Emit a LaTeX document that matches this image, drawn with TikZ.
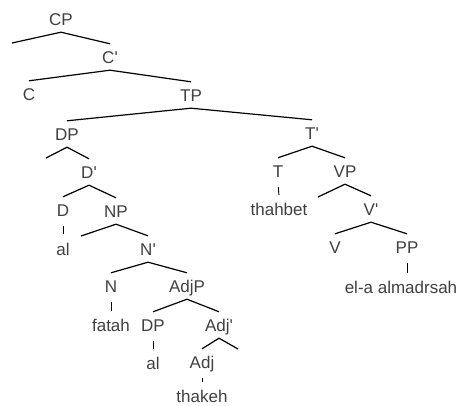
\documentclass[tikz,border=0pt]{standalone}
\usepackage{fontspec}
\setmainfont{Liberation Sans}
\definecolor{labelgray}{RGB}{64,64,64}
\newcommand{\primemark}{\textquotesingle}
\begin{document}
\begin{tikzpicture}[x=1pt,y=-1pt,
  lab/.style={anchor=base,inner sep=0pt,text height=20pt,text depth=6pt,
    text=labelgray,font=\fontsize{17}{20}\selectfont},
  branch/.style={draw=black,line width=1.2pt},
  unary/.style={draw=black,line width=0.9pt,shorten <=3pt,shorten >=1pt}]
\useasboundingbox (0,0) rectangle (467,406);
% labels: (x, baseline)
\node[lab] (cp)      at (61,26)   {CP};
\coordinate (e1) at (12,43);
\node[lab] (cbar)    at (110,64)  {C\primemark};
\node[lab] (c)       at (29,101)  {C};
\node[lab] (tp)      at (191,102) {TP};
\node[lab] (dp)      at (67,141)  {DP};
\coordinate (e2) at (46,158);
\node[lab] (dbar)    at (89,179)  {D\primemark};
\node[lab] (d)       at (63,217)  {D};
\node[lab] (al1)     at (63,255.5){al};
\node[lab] (np)      at (116,218) {NP};
\coordinate (e3) at (81,236);
\node[lab] (nbar)    at (148,256) {N\primemark};
\node[lab] (n)       at (111,293) {N};
\node[lab] (fatah)   at (111,332) {fatah};
\node[lab] (adjp)    at (187,293) {AdjP};
\node[lab] (dp2)     at (153,332) {DP};
\node[lab] (al2)     at (153,370) {al};
\node[lab] (adjbar)  at (219,332) {Adj\primemark};
\coordinate (e5) at (238,349);
\node[lab] (adj)     at (202,369) {Adj};
\node[lab] (thakeh)  at (202,403) {thakeh};
\node[lab] (tbar)    at (312,140) {T\primemark};
\node[lab] (t)       at (278,178) {T};
\node[lab] (thahbet) at (279,216) {thahbet};
\node[lab] (vp)      at (345,178) {VP};
\coordinate (e4) at (318,197);
\node[lab] (vbar)    at (371,216) {V\primemark};
\node[lab] (v)       at (335,254) {V};
\node[lab] (pp)      at (407,254) {PP};
\node[lab] (ela)     at (401,294) {el-a almadrsah};
% branches
\draw[branch] (e1) -- (cp.south) -- (cbar.north);
\draw[branch] (c.north) -- (cbar.south) -- (tp.north);
\draw[branch] (dp.north) -- (tp.south) -- (tbar.north);
\draw[branch] (e2) -- (dp.south) -- (dbar.north);
\draw[branch] (d.north) -- (dbar.south) -- (np.north);
\draw[unary]  (d.south) -- (al1.north);
\draw[branch] (e3) -- (np.south) -- (nbar.north);
\draw[branch] (n.north) -- (nbar.south) -- (adjp.north);
\draw[unary]  (n.south) -- (fatah.north);
\draw[branch] (dp2.north) -- (adjp.south) -- (adjbar.north);
\draw[unary]  (dp2.south) -- (al2.north);
\draw[branch] (adj.north) -- (adjbar.south) -- (e5);
\draw[unary]  (adj.south) -- (thakeh.north);
\draw[branch] (t.north) -- (tbar.south) -- (vp.north);
\draw[unary]  (t.south) -- (thahbet.north);
\draw[branch] (e4) -- (vp.south) -- (vbar.north);
\draw[branch] (v.north) -- (vbar.south) -- (pp.north);
\draw[unary]  (pp.south) -- (pp.south |- ela.north);
\end{tikzpicture}
\end{document}
